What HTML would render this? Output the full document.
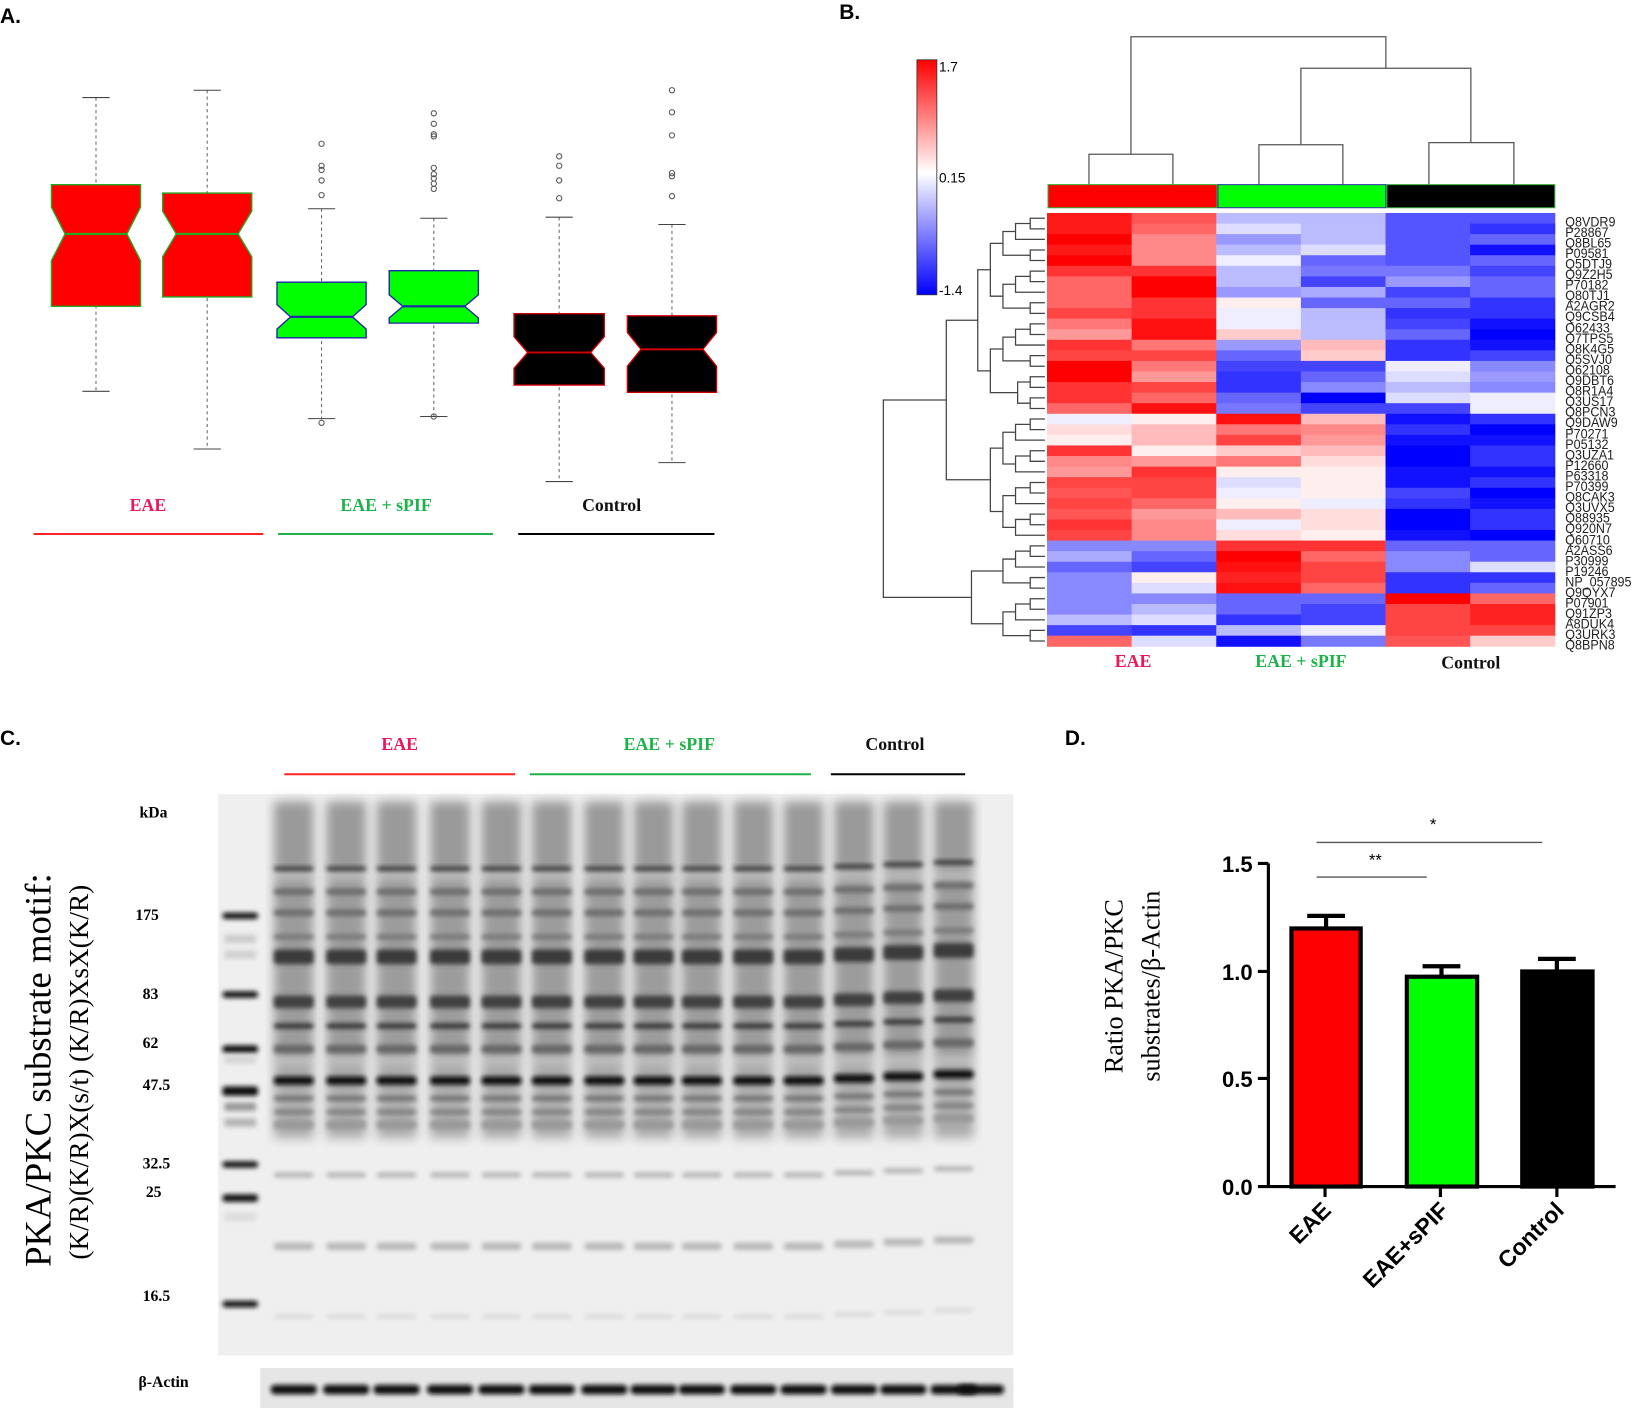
<!DOCTYPE html>
<html><head><meta charset="utf-8"><style>
html,body{margin:0;padding:0;background:#fff;}
svg{display:block;}
.ser{font-family:"Liberation Serif",serif;}
.san{font-family:"Liberation Sans",sans-serif;}
</style></head><body>
<svg id="s" width="1645" height="1410" viewBox="0 0 1568 1344" xmlns="http://www.w3.org/2000/svg">
<defs>
<filter id="bl" x="-20%" y="-80%" width="140%" height="260%"><feGaussianBlur stdDeviation="2.4"/></filter>
<filter id="bl2" x="-20%" y="-20%" width="140%" height="140%"><feGaussianBlur stdDeviation="5"/></filter>
<linearGradient id="cb" x1="0" y1="0" x2="0" y2="1">
<stop offset="0" stop-color="#ff0000"/><stop offset="0.48" stop-color="#ffffff"/><stop offset="1" stop-color="#0000ff"/></linearGradient>
</defs>
<g class="san" font-weight="bold" font-size="20">
<text x="0" y="22">A.</text><text x="800" y="18">B.</text><text x="0" y="710">C.</text><text x="1015" y="710">D.</text>
</g>
<g id="boxA"></g>
<g class="ser" font-weight="bold" font-size="17" text-anchor="middle">
<text x="141" y="487" fill="#e8185a">EAE</text>
<text x="368" y="487" fill="#1db34a">EAE + sPIF</text>
<text x="583" y="487" fill="#111">Control</text>
</g>
<line x1="32" y1="509" x2="251" y2="509" stroke="#f22" stroke-width="2"/>
<line x1="265" y1="509" x2="470" y2="509" stroke="#1db34a" stroke-width="2"/>
<line x1="494" y1="509" x2="681" y2="509" stroke="#000" stroke-width="2"/>
<rect x="874" y="57" width="19" height="224" fill="url(#cb)" stroke="#333" stroke-width="0.8"/>
<g class="san" font-size="13"><text x="895" y="68">1.7</text><text x="895" y="174">0.15</text><text x="895" y="281">-1.4</text></g>
<g stroke="#555" stroke-width="1.2" fill="none">
<path d="M1038 176V147H1118V176M1200 176V138H1280V176M1362 176V136H1443V176M1078 147V35H1321V65M1240 138V65H1402V136"/>
</g>
<rect x="999" y="176" width="161" height="22" fill="#ff0000" stroke="#3a3" stroke-width="1"/>
<rect x="1161" y="176" width="160" height="22" fill="#00ff00" stroke="#33a" stroke-width="1"/>
<rect x="1322" y="176" width="160" height="22" fill="#000" stroke="#3a3" stroke-width="1"/>
<g id="heat"></g>
<g id="dend" stroke="#444" stroke-width="1.2" fill="none"></g>
<g class="san" font-size="13" fill="#222" id="rl" transform="translate(1492,0) scale(0.92,1) translate(-1492,0)">
<text x="1492" y="216">Q8VDR9</text><text x="1492" y="226">P28867</text><text x="1492" y="236">Q8BL65</text><text x="1492" y="246">P09581</text><text x="1492" y="256">Q5DTJ9</text><text x="1492" y="266">Q9Z2H5</text><text x="1492" y="276">P70182</text><text x="1492" y="286">Q80TJ1</text><text x="1492" y="296">A2AGR2</text><text x="1492" y="306">Q9CSB4</text><text x="1492" y="317">Q62433</text><text x="1492" y="327">Q7TPS5</text><text x="1492" y="337">Q8K4G5</text><text x="1492" y="347">Q5SVJ0</text><text x="1492" y="357">Q62108</text><text x="1492" y="367">Q9DBT6</text><text x="1492" y="377">Q8R1A4</text><text x="1492" y="387">Q3US17</text><text x="1492" y="397">Q8PCN3</text><text x="1492" y="407">Q9DAW9</text><text x="1492" y="418">P70271</text><text x="1492" y="428">P05132</text><text x="1492" y="438">Q3UZA1</text><text x="1492" y="448">P12660</text><text x="1492" y="458">P63318</text><text x="1492" y="468">P70399</text><text x="1492" y="478">Q8CAK3</text><text x="1492" y="488">Q3UVX5</text><text x="1492" y="498">Q88935</text><text x="1492" y="508">Q920N7</text><text x="1492" y="519">Q60710</text><text x="1492" y="529">A2ASS6</text><text x="1492" y="539">P30999</text><text x="1492" y="549">P19246</text><text x="1492" y="559">NP_057895</text><text x="1492" y="569">Q9QYX7</text><text x="1492" y="579">P07901</text><text x="1492" y="589">Q91ZP3</text><text x="1492" y="599">A8DUK4</text><text x="1492" y="609">Q3URK3</text><text x="1492" y="619">Q8BPN8</text>
</g>
<g class="ser" font-weight="bold" font-size="17" text-anchor="middle">
<text x="1080" y="636" fill="#e8185a">EAE</text>
<text x="1240" y="636" fill="#1db34a">EAE + sPIF</text>
<text x="1402" y="637" fill="#111">Control</text>
</g>
<g class="ser" font-weight="bold" font-size="17" text-anchor="middle">
<text x="381" y="715" fill="#e8185a">EAE</text>
<text x="638" y="715" fill="#1db34a">EAE + sPIF</text>
<text x="853" y="715" fill="#111">Control</text>
</g>
<line x1="271" y1="738" x2="491" y2="738" stroke="#f22" stroke-width="2"/>
<line x1="505" y1="738" x2="773" y2="738" stroke="#1db34a" stroke-width="2"/>
<line x1="792" y1="738" x2="920" y2="738" stroke="#000" stroke-width="2"/>
<rect x="208" y="757" width="758" height="535" fill="#efefef"/>
<g id="gel"></g>
<rect x="248" y="1304" width="718" height="38" fill="#e6e6e6"/>
<g id="actin"></g>
<g class="ser" font-weight="bold" font-size="15">
<text x="133" y="779">kDa</text>
<text x="129" y="877">175</text><text x="136" y="952">83</text><text x="136" y="999">62</text>
<text x="136" y="1039">47.5</text><text x="136" y="1114">32.5</text><text x="139" y="1141">25</text>
<text x="136" y="1240">16.5</text><text x="132" y="1322">β-Actin</text>
</g>
<text class="ser" font-size="35" transform="translate(48,1020) rotate(-90)" text-anchor="middle">PKA/PKC substrate motif:</text>
<text class="ser" font-size="26" transform="translate(84,1022) rotate(-90)" text-anchor="middle">(K/R)(K/R)X(s/t)  (K/R)XsX(K/R)</text>
<text class="ser" font-size="25" transform="translate(1070,940) rotate(-90)" text-anchor="middle">Ratio PKA/PKC</text>
<text class="ser" font-size="25" transform="translate(1105,940) rotate(-90)" text-anchor="middle">substrates/β-Actin</text>
<g stroke="#000" stroke-width="3" fill="none">
<path d="M1209 823V1131H1540M1199 823H1209M1199 926H1209M1199 1028H1209M1199 1131H1209M1263 1131V1141M1373 1131V1141M1484 1131V1141"/>
</g>
<g class="san" font-weight="bold" font-size="21" text-anchor="end">
<text x="1194" y="831">1.5</text><text x="1194" y="934">1.0</text><text x="1194" y="1036">0.5</text><text x="1194" y="1139">0.0</text>
</g>
<g stroke="#000" stroke-width="4">
<rect x="1231" y="885" width="66" height="246" fill="#ff0000"/>
<rect x="1341" y="931" width="67" height="200" fill="#00ff00"/>
<rect x="1451" y="926" width="67" height="205" fill="#000"/>
<path d="M1264 885V873M1246 873H1282M1374 931V921M1356 921H1392M1484 926V914M1466 914H1502" fill="none"/>
</g>
<g stroke="#555" stroke-width="1.3"><line x1="1255" y1="836" x2="1360" y2="836"/><line x1="1255" y1="803" x2="1470" y2="803"/></g>
<g class="san" font-size="16" text-anchor="middle"><text x="1311" y="825">**</text><text x="1366" y="791">*</text></g>
<g class="san" font-weight="bold" font-size="22" text-anchor="end">
<text transform="translate(1270,1155) rotate(-45)">EAE</text>
<text transform="translate(1382,1155) rotate(-45)">EAE+sPIF</text>
<text transform="translate(1492,1155) rotate(-45)">Control</text>
</g>
</svg>
<script>
var NS="http://www.w3.org/2000/svg";
function el(p,t,a){var e=document.createElementNS(NS,t);for(var k in a)e.setAttribute(k,a[k]);p.appendChild(e);return e;}
var bA=document.getElementById("boxA");
var boxes=[
[49,134,93,176,223,292,373,"#f00","#2a2",[]],
[155,240,86,184,223,283,428,"#f00","#2a2",[]],
[264,349,199,269,302,322,399,"#0f0","#22a",[137,158,162,172,186,403]],
[371,456,208,258,292,308,397,"#0f0","#22a",[108,118,128,130,160,166,170,175,180,397]],
[490,576,207,299,336,367,459,"#000","#c00",[149,158,172,189]],
[598,683,214,301,333,374,441,"#000","#c00",[86,107,129,165,168,187]]];
boxes.forEach(function(b){
 var x0=b[0],x1=b[1],cx=(x0+x1)/2,wt=b[2],t=b[3],m=b[4],bo=b[5],wb=b[6];
 el(bA,"line",{x1:cx,y1:wt,x2:cx,y2:wb,stroke:"#666","stroke-dasharray":"3,3","stroke-width":1});
 el(bA,"line",{x1:cx-13,y1:wt,x2:cx+13,y2:wt,stroke:"#444"});
 el(bA,"line",{x1:cx-13,y1:wb,x2:cx+13,y2:wb,stroke:"#444"});
 var h=(bo-t)*0.22,ind=13;
 el(bA,"polygon",{points:[x0,t,x1,t,x1,m-h,x1-ind,m,x1,m+h,x1,bo,x0,bo,x0,m+h,x0+ind,m,x0,m-h].join(" "),fill:b[7],stroke:b[8],"stroke-width":1.3});
 el(bA,"line",{x1:x0+ind,y1:m,x2:x1-ind,y2:m,stroke:b[8],"stroke-width":2});
 b[9].forEach(function(y){el(bA,"circle",{cx:cx,cy:y,r:2.5,fill:"none",stroke:"#555","stroke-width":1});});
});
var H=[
"f1a1a f55 bbf bbf 55f 55f","f1a1a f66 ddf bbf 55f 33f","f00 f88 99f bbf 55f 66f","f1a1a f88 bbf ddf 55f 11f","f00 f88 eef 66f 55f 66f",
"f33 f33 bbf 77f 77f 44f","f66 f00 bbf 44f 99f 66f","f66 f00 99f aaf 44f 66f","f66 f33 fee 66f 66f 33f","f44 f33 eef bbf 33f 33f",
"f77 f11 eef bbf 44f 11f","f99 f11 fcc bbf 66f 00f","f33 f77 99f fbb 33f 11f","f44 f44 66f fcc 33f 44f","f00 f77 44f 44f eef 88f",
"f00 f99 33f 66f ddf 99f","f33 f44 33f 88f bbf 88f","f33 f66 66f 00f ddf eef","f66 f11 77f 44f 44f eef","eef fee f11 fbb 11f 33f",
"fdd fbb f77 f88 33f 00f","fee fbb f44 f99 11f 11f","f33 fee fcc fbb 00f 33f","f88 f99 f77 fdd 00f 33f","f99 f33 fee fee 11f 11f",
"f44 f44 ddf fee 11f 33f","f55 f44 eef fee 44f 00f","f44 f66 fee eef 33f 11f","f55 f99 fbb fdd 00f 33f","f33 f88 eef fdd 00f 33f",
"f44 f88 fdd fee 11f 00f","88f 88f f33 f33 66f 66f","aaf 66f f00 f66 88f 66f","66f 44f f11 f44 88f ddf","88f fee f22 f44 33f 33f",
"88f ddf f11 f66 33f 66f","88f 88f 66f 66f f00 f66","88f bbf 66f 44f f44 f22","bbf ddf 33f 44f f44 f22","44f 33f bbf eef f44 f44",
"f66 ddf 11f 77f f55 fcc"];
var hg=document.getElementById("heat"),y0=203,rh=(616-203)/41,cw=(1482-998)/6;
H.forEach(function(r,i){r.split(" ").forEach(function(c,j){
 var cc="#"+c;
 if(c=="f1a1a") cc="#ff1a1a";
 el(hg,"rect",{x:998+j*cw,y:y0+i*rh,width:cw+0.5,height:rh+0.5,fill:cc});
});});
var dg=document.getElementById("dend");
function pth(d){var p=document.createElementNS(NS,"path");p.setAttribute("d",d);dg.appendChild(p);}
function tree(a,b){
 if(a==b) return [y0+(a+0.5)*rh,996];
 var m=Math.floor((a+b)/2);
 var L=tree(a,m),R=tree(m+1,b);
 var x=Math.min(L[1],R[1])-(b-a<3?14:12);
 pth("M"+L[1]+" "+L[0]+"H"+x+"V"+R[0]+"H"+R[1]);
 return [(L[0]+R[0])/2,x];
}
function join(A,B,x){pth("M"+A[1]+" "+A[0]+"H"+x+"V"+B[0]+"H"+B[1]);return [(A[0]+B[0])/2,x];}
var tA=tree(0,18),tB=tree(19,30),tC=tree(31,35),tD=tree(36,40);
var AB=join(tA,tB,Math.min(tA[1],tB[1])-30);
var CD=join(tC,tD,Math.min(tC[1],tD[1])-30);
join(AB,CD,842);
var gg=document.getElementById("gel");
[[873,6],[948,6],[1000,7],[1040,9],[1110,6],[1142,7],[1243,6]].forEach(function(b){el(gg,"rect",{x:212,y:b[0]-b[1]/2,width:34,height:b[1],rx:3,fill:"#0a0a0a",filter:"url(#bl)"});});
[[895,"#ccc"],[910,"#d0d0d0"],[1055,"#999"],[1070,"#b5b5b5"],[1160,"#ddd"],[1010,"#d5d5d5"]].forEach(function(b){el(gg,"rect",{x:214,y:b[0]-4,width:30,height:8,fill:b[1],filter:"url(#bl)"});});
var lanes=[280,330,378,429,478,526,576,623,669,718,766,814,861,909];
lanes.forEach(function(cx,i){
 var w=38,x=cx-w/2, sk=i>=11?(i-10)*-2:0;
 el(gg,"rect",{x:x,y:764,width:w,height:70,fill:"#9a9a9a",filter:"url(#bl2)"});
 el(gg,"rect",{x:x,y:835,width:w,height:175,fill:"#9c9c9c",filter:"url(#bl2)"});
 el(gg,"rect",{x:x,y:1010,width:w,height:75,fill:"#ababab",filter:"url(#bl2)"});
 var bands=[[828,4,"#333"],[850,6,"#6a6a6a"],[870,6,"#6a6a6a"],[893,5,"#777"],[912,14,"#3a3a3a"],[955,12,"#404040"],[978,5,"#333"],[1000,8,"#666"],[1030,8,"#0a0a0a"],[1047,4,"#666"],[1060,4,"#777"],[1072,8,"#999"],[1120,5,"#b5b5b5"],[1188,7,"#b8b8b8"],[1255,4,"#d8d8d8"]];
 bands.forEach(function(b){el(gg,"rect",{x:x,y:b[0]+sk-b[1]/2,width:w,height:b[1],rx:3,fill:b[2],filter:"url(#bl)"});});
});
var ag=document.getElementById("actin");
[280,330,378,429,478,526,576,623,669,718,766,814,861,909,935].forEach(function(cx){
 el(ag,"rect",{x:cx-22,y:1320,width:44,height:9,rx:4,fill:"#0a0a0a",filter:"url(#bl)"});
});
</script>
</body></html>
